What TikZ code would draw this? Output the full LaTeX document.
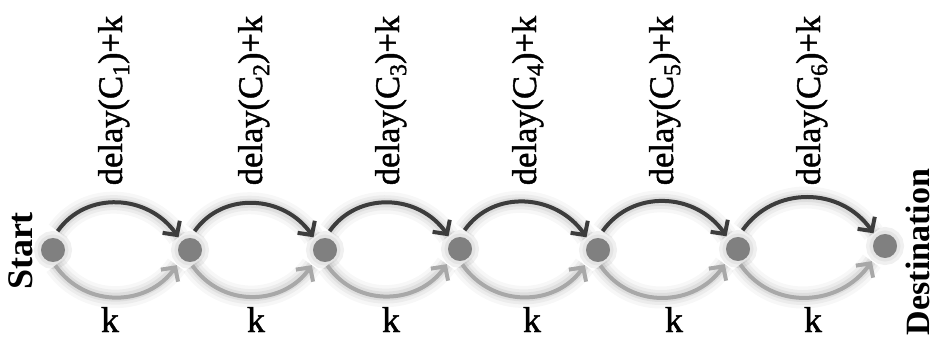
\documentclass[tikz,border=0pt]{standalone}
\usepackage{fontspec}
\setmainfont{Liberation Serif}
\newfontfamily\medserif[FakeBold=1.3]{Liberation Serif}
\usetikzlibrary{arrows.meta,calc}
\definecolor{upc}{HTML}{3C3C3C}
\definecolor{loc}{HTML}{A8A8A8}
\definecolor{ndc}{HTML}{808080}
\tikzset{
  vtx/.style={circle,minimum size=24pt,inner sep=0pt,fill=ndc,
    preaction={fill=black,opacity=0.06,draw=black,line width=14pt},
    preaction={fill=black,opacity=0.05,draw=black,line width=7pt}},
  halo/.style={preaction={draw=black,line width=22pt,opacity=0.03,-},
               preaction={draw=black,line width=15pt,opacity=0.045,-},
               preaction={draw=black,line width=9pt,opacity=0.06,-}},
  uparc/.style={halo,draw=upc,line width=4pt,
    -{Straight Barb[length=10pt,width=21pt]},
    out=55,in=125,looseness=1.15,shorten <=8pt,shorten >=5pt},
  loarc/.style={halo,draw=loc,line width=4pt,
    -{Straight Barb[length=10pt,width=21pt]},
    out=-55,in=-125,looseness=1.15,shorten <=4pt,shorten >=8pt},
  lbl/.style={font=\fontsize{36}{40}\medserif,inner sep=0pt},
  vlbl/.style={lbl,rotate=90,anchor=base},
  dlbl/.style={vlbl,font=\fontsize{34.5}{40}\medserif},
  klbl/.style={lbl,anchor=base},
}
\newcommand{\sbx}[1]{\raisebox{-0.45ex}{\fontsize{24}{26}\medserif #1}}
\begin{document}
\begin{tikzpicture}[x=1pt,y=1pt]
\useasboundingbox (0,0) rectangle (936,340);
\node[vtx] (n1) at (53,90) {};
\node[vtx] (n2) at (190,90) {};
\node[vtx] (n3) at (325,90) {};
\node[vtx] (n4) at (460,91) {};
\node[vtx] (n5) at (598,90) {};
\node[vtx] (n6) at (738,91) {};
\node[vtx] (n7) at (885,94) {};
\foreach \a/\b in {n1/n2,n2/n3,n3/n4,n4/n5,n5/n6,n6/n7}{
  \draw[uparc] (\a.north) to (\b.north west);
  \draw[loarc] (\a.south) to (\b.south west);
}
\node[dlbl] (d1) at (122,239.5) {delay(C\sbx{1})+k};
\node[dlbl] (d2) at (262,239.5) {delay(C\sbx{2})+k};
\node[dlbl] (d3) at (399,239.5) {delay(C\sbx{3})+k};
\node[dlbl] (d4) at (536,239.5) {delay(C\sbx{4})+k};
\node[dlbl] (d5) at (673,239.5) {delay(C\sbx{5})+k};
\node[dlbl] (d6) at (820,239.5) {delay(C\sbx{6})+k};
\node[klbl] (k1) at (110,8) {k};
\node[klbl] (k2) at (256,8) {k};
\node[klbl] (k3) at (391,8) {k};
\node[klbl] (k4) at (532,8) {k};
\node[klbl] (k5) at (674,8) {k};
\node[klbl] (k6) at (813,8) {k};
\node[vlbl,font=\fontsize{36}{40}\selectfont\bfseries] (st) at (32,89) {Start};
\node[vlbl,font=\fontsize{34}{40}\selectfont\bfseries] (de) at (929,88) {Destination};
\end{tikzpicture}
\end{document}
